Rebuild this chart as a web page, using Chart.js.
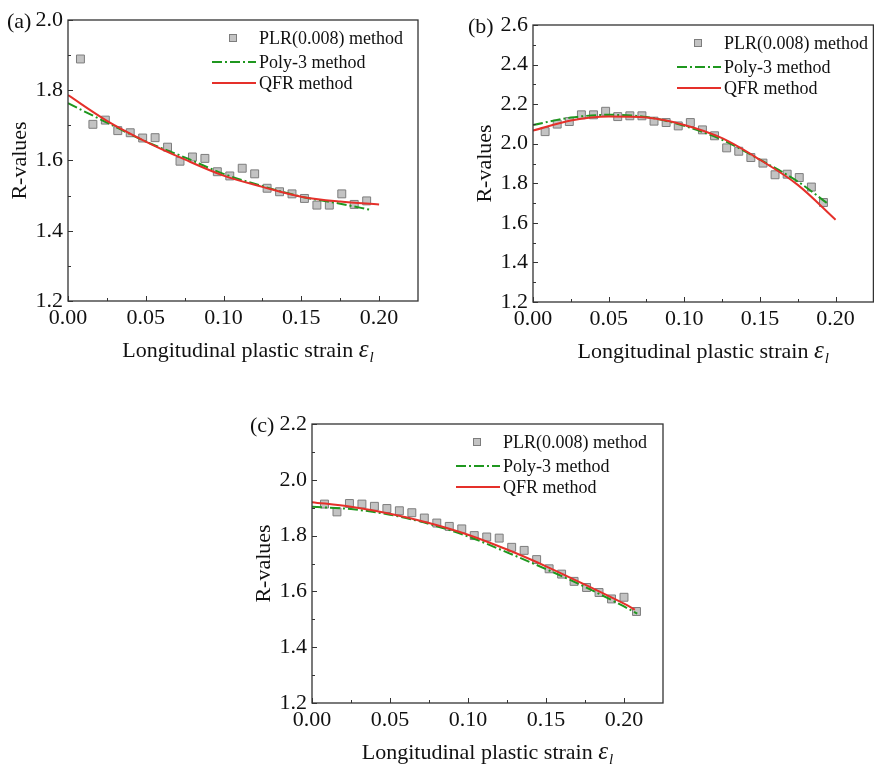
<!DOCTYPE html>
<html lang="en">
  <head>
    <meta charset="UTF-8" />
    <title>R-values vs strain</title>
    <script src="https://cdn.jsdelivr.net/npm/chart.js"></script>
    <style>
      html, body { margin: 0; padding: 0; background: #fff; width: 874px; height: 765px; overflow: hidden; }
      .panel { position: absolute; }
    </style>
  </head>
  <body>
    <div class="panel" style="left: 0px; top: 0px"><canvas id="chart-a" width="440" height="380"></canvas></div>
    <div class="panel" style="left: 440px; top: 0px"><canvas id="chart-b" width="440" height="380"></canvas></div>
    <div class="panel" style="left: 230px; top: 400px"><canvas id="chart-c" width="440" height="365"></canvas></div>

  <script>
    // ---- data ----
    const strainA = [0.008, 0.016, 0.024, 0.032, 0.040, 0.048, 0.056, 0.064, 0.072, 0.080, 0.088, 0.096,
                     0.104, 0.112, 0.120, 0.128, 0.136, 0.144, 0.152, 0.160, 0.168, 0.176, 0.184, 0.192];
    const plrA = [1.889, 1.703, 1.715, 1.685, 1.679, 1.664, 1.665, 1.638, 1.598, 1.610, 1.606, 1.568,
                  1.556, 1.578, 1.562, 1.521, 1.511, 1.505, 1.492, 1.473, 1.473, 1.505, 1.475, 1.485];
    const qfrXA = [0, 0.025, 0.05, 0.075, 0.10, 0.125, 0.15, 0.175, 0.20];
    const qfrA = [1.786, 1.713, 1.654, 1.603, 1.557, 1.525, 1.497, 1.483, 1.475];
    const polyXA = [0, 0.025, 0.05, 0.075, 0.10, 0.125, 0.15, 0.175, 0.195];
    const polyA = [1.763, 1.708, 1.654, 1.609, 1.562, 1.527, 1.497, 1.477, 1.459];

    const strainB = strainA;
    const plrB = [2.061, 2.099, 2.112, 2.146, 2.146, 2.164, 2.137, 2.141, 2.141, 2.114, 2.107, 2.090,
                  2.107, 2.070, 2.040, 1.979, 1.962, 1.930, 1.902, 1.843, 1.846, 1.829, 1.781, 1.703];
    const qfrXB = [0, 0.025, 0.05, 0.075, 0.10, 0.125, 0.15, 0.175, 0.20];
    const qfrB = [2.066, 2.117, 2.137, 2.132, 2.095, 2.028, 1.919, 1.792, 1.616];
    const polyXB = [0, 0.025, 0.05, 0.075, 0.10, 0.125, 0.15, 0.175, 0.195];
    const polyB = [2.095, 2.132, 2.146, 2.135, 2.090, 2.020, 1.919, 1.809, 1.696];

    const strainC = [0.008, 0.016, 0.024, 0.032, 0.040, 0.048, 0.056, 0.064, 0.072, 0.080, 0.088, 0.096, 0.104,
                     0.112, 0.120, 0.128, 0.136, 0.144, 0.152, 0.160, 0.168, 0.176, 0.184, 0.192, 0.200, 0.208];
    const plrC = [1.913, 1.885, 1.915, 1.913, 1.905, 1.897, 1.889, 1.882, 1.863, 1.845, 1.833, 1.824, 1.800,
                  1.795, 1.791, 1.758, 1.747, 1.714, 1.681, 1.662, 1.636, 1.614, 1.596, 1.573, 1.579, 1.528];
    const qfrXC = [0, 0.025, 0.05, 0.075, 0.10, 0.125, 0.15, 0.175, 0.20, 0.207];
    const qfrC = [1.920, 1.903, 1.878, 1.845, 1.803, 1.750, 1.690, 1.624, 1.556, 1.535];
    const polyXC = [0, 0.025, 0.05, 0.075, 0.10, 0.125, 0.15, 0.175, 0.20, 0.2085];
    const polyC = [1.903, 1.895, 1.875, 1.842, 1.797, 1.740, 1.680, 1.616, 1.546, 1.520];

    const xTicks = [0, 0.05, 0.10, 0.15, 0.20];
    const xMinor = [0.025, 0.075, 0.125, 0.175];
    const yTicksA = [1.2, 1.4, 1.6, 1.8, 2.0];
    const yMinorA = [1.3, 1.5, 1.7, 1.9];
    const yTicksB = [1.2, 1.4, 1.6, 1.8, 2.0, 2.2, 2.4, 2.6];
    const yMinorB = [1.3, 1.5, 1.7, 1.9, 2.1, 2.3, 2.5];
    const yTicksC = [1.2, 1.4, 1.6, 1.8, 2.0, 2.2];
    const yMinorC = [1.3, 1.5, 1.7, 1.9, 2.1];

    const legendNames = ["PLR(0.008) method", "Poly-3 method", "QFR method"];
    const SERIF = '"Liberation Serif", "Times New Roman", serif';
    const AXIS = "#333";
    const RED = "#e5302a";
    const GREEN = "#1f971f";
    const SQ_FILL = "#c3c3c3";
    const SQ_EDGE = "#7d7d7d";

    const toXY = (xs, ys) => xs.map((x, i) => ({ x: x, y: ys[i] }));

    // box, inward ticks, titles, panel letter and in-plot legend
    const decor = {
      id: "decor",
      afterDraw(chart, args, o) {
        const { ctx, chartArea: a, scales } = chart;
        const x = scales.x, y = scales.y;
        ctx.save();
        ctx.strokeStyle = AXIS;
        ctx.lineWidth = 1.3;
        ctx.strokeRect(a.left, a.top, a.right - a.left, a.bottom - a.top);
        ctx.lineWidth = 1;
        ctx.beginPath();
        xTicks.forEach((v) => { const p = Math.round(x.getPixelForValue(v)) + 0.5; ctx.moveTo(p, a.bottom); ctx.lineTo(p, a.bottom - 5); });
        xMinor.forEach((v) => { const p = Math.round(x.getPixelForValue(v)) + 0.5; ctx.moveTo(p, a.bottom); ctx.lineTo(p, a.bottom - 3); });
        o.yTicks.forEach((v) => { const p = Math.round(y.getPixelForValue(v)) + 0.5; ctx.moveTo(a.left, p); ctx.lineTo(a.left + 5, p); });
        o.yMinor.forEach((v) => { const p = Math.round(y.getPixelForValue(v)) + 0.5; ctx.moveTo(a.left, p); ctx.lineTo(a.left + 3, p); });
        ctx.stroke();

        ctx.fillStyle = "#111";
        // y title
        ctx.save();
        ctx.font = "22px " + SERIF;
        ctx.translate(a.left - 48, (a.top + a.bottom) / 2);
        ctx.rotate(-Math.PI / 2);
        ctx.textAlign = "center";
        ctx.textBaseline = "middle";
        ctx.fillText("R-values", 0, 0);
        ctx.restore();

        // x title: plain text + italic epsilon with subscript l
        const main = "Longitudinal plastic strain ";
        ctx.textBaseline = "alphabetic";
        ctx.textAlign = "left";
        ctx.font = "22px " + SERIF;
        const w1 = ctx.measureText(main).width;
        ctx.font = "italic 25px " + SERIF;
        const w2 = ctx.measureText("\u03b5").width;
        ctx.font = "italic 15px " + SERIF;
        const w3 = ctx.measureText("l").width;
        let tx = (a.left + a.right) / 2 - (w1 + w2 + w3 + 1) / 2 + o.titleShift;
        const ty = a.bottom + 56;
        ctx.font = "22px " + SERIF;
        ctx.fillText(main, tx, ty);
        tx += w1;
        ctx.font = "italic 25px " + SERIF;
        ctx.fillText("\u03b5", tx, ty);
        tx += w2 + 1;
        ctx.font = "italic 15px " + SERIF;
        ctx.fillText("l", tx, ty + 5);

        // panel letter
        ctx.font = "22px " + SERIF;
        ctx.textBaseline = "middle";
        ctx.fillText(o.label, o.labelX, a.top + 2);

        // legend
        const lx = a.left;
        const rows = [a.top + 18, a.top + 42, a.top + 63];
        ctx.fillStyle = SQ_FILL;
        ctx.strokeStyle = SQ_EDGE;
        ctx.fillRect(lx + 161, rows[0] - 4, 8, 8);
        ctx.strokeRect(lx + 161.5, rows[0] - 3.5, 7, 7);
        ctx.lineWidth = 2;
        ctx.strokeStyle = GREEN;
        ctx.setLineDash([10, 3, 2, 3]);
        ctx.beginPath(); ctx.moveTo(lx + 144, rows[1]); ctx.lineTo(lx + 188, rows[1]); ctx.stroke();
        ctx.setLineDash([]);
        ctx.strokeStyle = RED;
        ctx.beginPath(); ctx.moveTo(lx + 144, rows[2]); ctx.lineTo(lx + 188, rows[2]); ctx.stroke();
        ctx.fillStyle = "#111";
        ctx.font = "18px " + SERIF;
        legendNames.forEach((t, i) => ctx.fillText(t, lx + 191, rows[i] + 1));
        ctx.restore();
      },
    };

    function makePanel(id, cfg) {
      new Chart(document.getElementById(id), {
        type: "scatter",
        data: {
          datasets: [
            {
              label: legendNames[2],
              data: toXY(cfg.qfrX, cfg.qfr),
              showLine: true,
              borderColor: RED,
              borderWidth: 2,
              pointRadius: 0,
              cubicInterpolationMode: "monotone",
              order: 0,
            },
            {
              label: legendNames[1],
              data: toXY(cfg.polyX, cfg.poly),
              showLine: true,
              borderColor: GREEN,
              borderWidth: 2,
              borderDash: [10, 3, 2, 3],
              pointRadius: 0,
              cubicInterpolationMode: "monotone",
              order: 1,
            },
            {
              label: legendNames[0],
              data: toXY(cfg.strain, cfg.plr),
              pointStyle: "rect",
              pointRadius: 5.6,
              backgroundColor: SQ_FILL,
              borderColor: SQ_EDGE,
              borderWidth: 1,
              order: 2,
            },
          ],
        },
        options: {
          responsive: false,
          animation: false,
          layout: { padding: { left: 0, top: cfg.top, right: cfg.padRight, bottom: 0 } },
          plugins: {
            legend: { display: false },
            tooltip: { enabled: false },
            decor: { label: cfg.label, labelX: cfg.labelX, yTicks: cfg.yTicks, yMinor: cfg.yMinor, titleShift: cfg.titleShift },
          },
          scales: {
            x: {
              type: "linear",
              min: 0,
              max: 0.225,
              afterBuildTicks: (s) => { s.ticks = xTicks.map((v) => ({ value: v })); },
              afterFit: (s) => { s.height = cfg.xHeight; },
              grid: { display: false, drawTicks: false },
              border: { display: false },
              ticks: {
                padding: 4,
                color: "#111",
                font: { family: SERIF, size: 22 },
                callback: (v) => Number(v).toFixed(2),
              },
            },
            y: {
              type: "linear",
              min: cfg.yTicks[0],
              max: cfg.yTicks[cfg.yTicks.length - 1],
              afterBuildTicks: (s) => { s.ticks = cfg.yTicks.map((v) => ({ value: v })); },
              afterFit: (s) => { s.width = cfg.left; },
              grid: { display: false, drawTicks: false },
              border: { display: false },
              ticks: {
                padding: 5,
                color: "#111",
                font: { family: SERIF, size: 22 },
                callback: (v) => Number(v).toFixed(1),
              },
            },
          },
        },
        plugins: [decor],
      });
    }

    makePanel("chart-a", {
      strain: strainA, plr: plrA, qfrX: qfrXA, qfr: qfrA, polyX: polyXA, poly: polyA,
      yTicks: yTicksA, yMinor: yMinorA, label: "(a)", labelX: 7,
      left: 68, top: 20, padRight: 22, xHeight: 79, titleShift: 5,
    });
    makePanel("chart-b", {
      strain: strainB, plr: plrB, qfrX: qfrXB, qfr: qfrB, polyX: polyXB, poly: polyB,
      yTicks: yTicksB, yMinor: yMinorB, label: "(b)", labelX: 28,
      left: 93, top: 25, padRight: 3, xHeight: 78, titleShift: 0,
    });
    makePanel("chart-c", {
      strain: strainC, plr: plrC, qfrX: qfrXC, qfr: qfrC, polyX: polyXC, poly: polyC,
      yTicks: yTicksC, yMinor: yMinorC, label: "(c)", labelX: 20,
      left: 82, top: 24, padRight: 7, xHeight: 62, titleShift: 0,
    });
  </script>
  </body>
</html>
